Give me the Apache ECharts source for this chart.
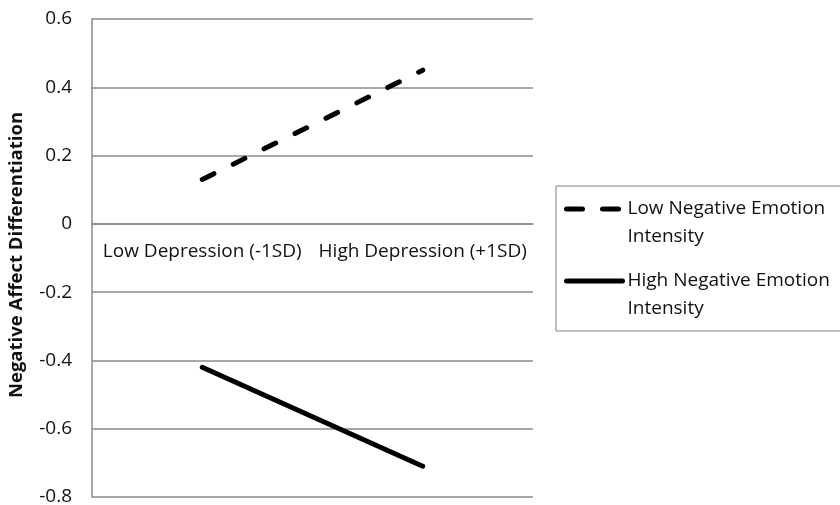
<!DOCTYPE html>
<html>
<head>
<meta charset="utf-8">
<script src="https://cdn.jsdelivr.net/npm/echarts@6/dist/echarts.min.js"></script>
<style>html,body{margin:0;padding:0;background:#fff;}#c{width:840px;height:505px;}</style>
</head>
<body>
<div id="c"></div>
<script>
const categories = ['Low Depression (-1SD)', 'High Depression (+1SD)'];
const lowIntensity = [0.13, 0.45];
const highIntensity = [-0.42, -0.71];
const seriesNames = ['Low Negative Emotion\nIntensity', 'High Negative Emotion\nIntensity'];
const yTicks = { min: -0.8, max: 0.6, interval: 0.2 };
const yTitle = 'Negative Affect Differentiation';

const FONT = 'Open Sans';
const GRID = { left: 92, right: 307, top: 19, bottom: 8 };
const chartH = 505;
// place the category axis where y = 0 sits inside the plot
const plotH = chartH - GRID.top - GRID.bottom;
const zeroFromBottom = plotH * (0 - yTicks.min) / (yTicks.max - yTicks.min);

const chart = echarts.init(document.getElementById('c'), null, { renderer: 'canvas' });
chart.setOption({
  animation: false,
  backgroundColor: '#fff',
  textStyle: { fontFamily: FONT },
  grid: Object.assign({ containLabel: false, outerBoundsMode: 'none' }, GRID),
  legend: {
    orient: 'vertical',
    left: 556,
    top: 186,
    padding: [-19, 40, 8, 8],
    borderColor: '#808080',
    borderWidth: 1,
    itemWidth: 56,
    itemHeight: 14,
    itemGap: -12,
    data: [
      { name: seriesNames[0], lineStyle: { type: [16, 20], width: 5, color: '#000', cap: 'round' } },
      { name: seriesNames[1], lineStyle: { type: 'solid', width: 5, color: '#000', cap: 'round' } }
    ],
    formatter: name => '\n' + name,
    itemStyle: { color: 'transparent', borderColor: 'transparent', borderWidth: 0, opacity: 0 },
    lineStyle: { width: 5, color: '#000' },
    textStyle: { fontFamily: FONT, fontSize: 19, color: '#111', lineHeight: 28 }
  },
  xAxis: {
    type: 'category',
    data: categories,
    boundaryGap: true,
    position: 'bottom',
    offset: -zeroFromBottom,
    axisLine: { show: true, onZero: false, lineStyle: { color: '#8a8a8a', width: 1.5 } },
    axisTick: { show: false },
    axisLabel: { fontFamily: FONT, fontSize: 19, color: '#111', margin: 18, interval: 0, hideOverlap: false }
  },
  yAxis: {
    type: 'value',
    min: yTicks.min, max: yTicks.max, interval: yTicks.interval,
    name: yTitle,
    nameLocation: 'middle',
    nameGap: 66,
    nameTextStyle: { fontFamily: FONT, fontSize: 18.5, fontWeight: 'bold', color: '#111', padding: [0, 0, 0, 6] },
    axisLine: { show: true, lineStyle: { color: '#8a8a8a', width: 1.5 } },
    axisTick: { show: false },
    axisLabel: { fontFamily: FONT, fontSize: 19, color: '#111', margin: 20,
      formatter: v => (Math.abs(v) < 1e-9 ? '0' : String(Math.round(v * 10) / 10)) },
    splitLine: { show: true, lineStyle: { color: '#8a8a8a', width: 1.5 } }
  },
  series: [
    {
      name: seriesNames[0], type: 'line', data: lowIntensity, symbol: 'none',
      lineStyle: { color: '#000', width: 5, type: [13, 21.5], cap: 'round' },
      itemStyle: { color: '#000' }
    },
    {
      name: seriesNames[1], type: 'line', data: highIntensity, symbol: 'none',
      lineStyle: { color: '#000', width: 5, type: 'solid', cap: 'round' },
      itemStyle: { color: '#000' }
    }
  ]
});
</script>
</body>
</html>
